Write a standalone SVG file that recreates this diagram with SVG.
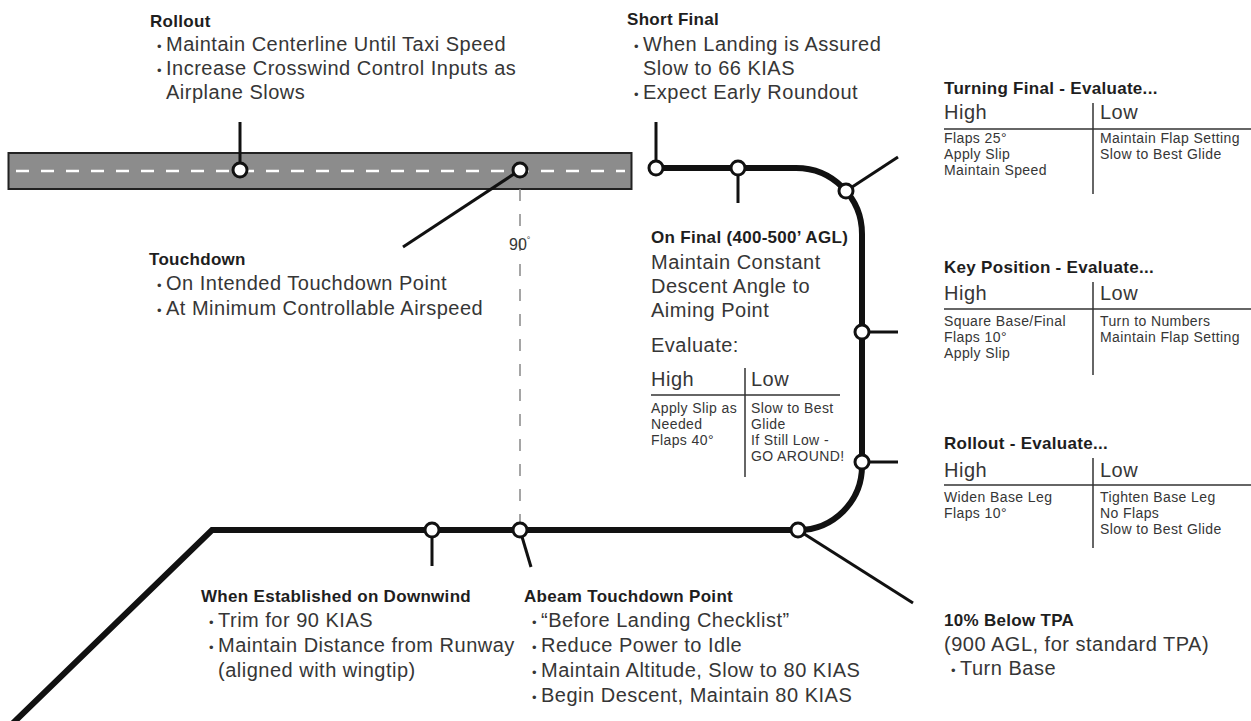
<svg xmlns="http://www.w3.org/2000/svg" width="1251" height="721" viewBox="0 0 1251 721">
<style>
text{font-family:"Liberation Sans",Arial,sans-serif}
.h{font-weight:bold;font-size:17px;letter-spacing:.3px;fill:#1e1e1e}
.b{font-size:20px;letter-spacing:.5px;fill:#363636}
.s{font-size:14px;letter-spacing:.4px;fill:#363636}
.bu{font-size:13px}
.path{fill:none;stroke:#111;stroke-width:6}
.lead{fill:none;stroke:#111;stroke-width:3}
.rule{stroke:#333;stroke-width:1.5}
.pt{fill:#fff;stroke:#111;stroke-width:3}
</style>
<rect width="1251" height="721" fill="#fff"/>
<g id="runway">
<rect x="8.5" y="153" width="623" height="36" fill="#8c8c8c" stroke="#222" stroke-width="2"/>
<line x1="16" y1="171" x2="625" y2="171" stroke="#fff" stroke-width="2.5" stroke-dasharray="13 12"/>
</g>
<g id="connectors">
<line x1="520" y1="189" x2="520" y2="530" stroke="#888" stroke-width="1.5" stroke-dasharray="12 13"/>
<path class="path" d="M10 726 L212 530 L798 530 A64 64 0 0 0 862 466 L862 234 A66 66 0 0 0 796 168 L656 168"/>
<line class="lead" x1="240" y1="170" x2="240" y2="122"/>
<line class="lead" x1="520" y1="170" x2="403" y2="247"/>
<line class="lead" x1="656" y1="168" x2="656" y2="122"/>
<line class="lead" x1="738" y1="168" x2="738" y2="203"/>
<line class="lead" x1="846" y1="191" x2="898" y2="157"/>
<line class="lead" x1="862" y1="332" x2="898" y2="332"/>
<line class="lead" x1="862" y1="462" x2="898" y2="462"/>
<line class="lead" x1="798" y1="530" x2="913" y2="603"/>
<line class="lead" x1="432" y1="530" x2="432" y2="566"/>
<line class="lead" x1="520" y1="530" x2="531" y2="567"/>
<circle class="pt" cx="240" cy="170" r="7"/>
<circle class="pt" cx="520" cy="170" r="7"/>
<circle class="pt" cx="656" cy="168" r="7"/>
<circle class="pt" cx="738" cy="168" r="7"/>
<circle class="pt" cx="846" cy="191" r="7"/>
<circle class="pt" cx="862" cy="332" r="7"/>
<circle class="pt" cx="862" cy="462" r="7"/>
<circle class="pt" cx="798" cy="530" r="7"/>
<circle class="pt" cx="520" cy="530" r="7"/>
<circle class="pt" cx="432" cy="530" r="7"/>
</g>
<g id="angle90">
<text x="509" y="250" style="font-size:16px;fill:#363636">90<tspan font-size="9" dy="-7">°</tspan></text>
</g>
<g id="rollout">
<text class="h" x="150" y="27">Rollout</text>
<text class="b" x="157" y="51"><tspan class="bu">•</tspan><tspan x="166">Maintain Centerline Until Taxi Speed</tspan></text>
<text class="b" x="157" y="75"><tspan class="bu">•</tspan><tspan x="166">Increase Crosswind Control Inputs as</tspan></text>
<text class="b" x="166" y="99">Airplane Slows</text>
</g>
<g id="short-final">
<text class="h" x="627" y="25">Short Final</text>
<text class="b" x="634" y="51"><tspan class="bu">•</tspan><tspan x="643">When Landing is Assured</tspan></text>
<text class="b" x="643" y="75">Slow to 66 KIAS</text>
<text class="b" x="634" y="99"><tspan class="bu">•</tspan><tspan x="643">Expect Early Roundout</tspan></text>
</g>
<g id="turning-final">
<text class="h" x="944" y="94">Turning Final - Evaluate...</text>
<text class="b" x="944" y="119">High</text>
<text class="b" x="1100" y="119">Low</text>
<line class="rule" x1="944" y1="129" x2="1251" y2="129"/>
<line class="rule" x1="1093" y1="103" x2="1093" y2="194"/>
<text class="s" x="944" y="143">Flaps 25°</text>
<text class="s" x="944" y="159">Apply Slip</text>
<text class="s" x="944" y="175">Maintain Speed</text>
<text class="s" x="1100" y="143">Maintain Flap Setting</text>
<text class="s" x="1100" y="159">Slow to Best Glide</text>
</g>
<g id="key-position">
<text class="h" x="944" y="273">Key Position - Evaluate...</text>
<text class="b" x="944" y="300">High</text>
<text class="b" x="1100" y="300">Low</text>
<line class="rule" x1="944" y1="309" x2="1251" y2="309"/>
<line class="rule" x1="1093" y1="282" x2="1093" y2="375"/>
<text class="s" x="944" y="326">Square Base/Final</text>
<text class="s" x="944" y="342">Flaps 10°</text>
<text class="s" x="944" y="358">Apply Slip</text>
<text class="s" x="1100" y="326">Turn to Numbers</text>
<text class="s" x="1100" y="342">Maintain Flap Setting</text>
</g>
<g id="rollout-evaluate">
<text class="h" x="944" y="449">Rollout - Evaluate...</text>
<text class="b" x="944" y="477">High</text>
<text class="b" x="1100" y="477">Low</text>
<line class="rule" x1="944" y1="485" x2="1251" y2="485"/>
<line class="rule" x1="1093" y1="458" x2="1093" y2="548"/>
<text class="s" x="944" y="502">Widen Base Leg</text>
<text class="s" x="944" y="518">Flaps 10°</text>
<text class="s" x="1100" y="502">Tighten Base Leg</text>
<text class="s" x="1100" y="518">No Flaps</text>
<text class="s" x="1100" y="534">Slow to Best Glide</text>
</g>
<g id="below-tpa">
<text class="h" x="944" y="626">10% Below TPA</text>
<text class="b" x="944" y="651">(900 AGL, for standard TPA)</text>
<text class="b" x="951" y="675"><tspan class="bu">•</tspan><tspan x="960">Turn Base</tspan></text>
</g>
<g id="on-final">
<text class="h" x="651" y="243">On Final (400-500’ AGL)</text>
<text class="b" x="651" y="269">Maintain Constant</text>
<text class="b" x="651" y="293">Descent Angle to</text>
<text class="b" x="651" y="317">Aiming Point</text>
<text class="b" x="651" y="352">Evaluate:</text>
<text class="b" x="651" y="386">High</text>
<text class="b" x="751" y="386">Low</text>
<line class="rule" x1="651" y1="395" x2="840" y2="395"/>
<line class="rule" x1="745" y1="368" x2="745" y2="477"/>
<text class="s" x="651" y="413">Apply Slip as</text>
<text class="s" x="651" y="429">Needed</text>
<text class="s" x="651" y="445">Flaps 40°</text>
<text class="s" x="751" y="413">Slow to Best</text>
<text class="s" x="751" y="429">Glide</text>
<text class="s" x="751" y="445">If Still Low -</text>
<text class="s" x="751" y="461">GO AROUND!</text>
</g>
<g id="touchdown">
<text class="h" x="149" y="265">Touchdown</text>
<text class="b" x="157" y="290"><tspan class="bu">•</tspan><tspan x="166">On Intended Touchdown Point</tspan></text>
<text class="b" x="157" y="315"><tspan class="bu">•</tspan><tspan x="166">At Minimum Controllable Airspeed</tspan></text>
</g>
<g id="downwind">
<text class="h" x="201" y="602">When Established on Downwind</text>
<text class="b" x="209" y="627"><tspan class="bu">•</tspan><tspan x="218">Trim for 90 KIAS</tspan></text>
<text class="b" x="209" y="652"><tspan class="bu">•</tspan><tspan x="218">Maintain Distance from Runway</tspan></text>
<text class="b" x="218" y="677">(aligned with wingtip)</text>
</g>
<g id="abeam">
<text class="h" x="524" y="602">Abeam Touchdown Point</text>
<text class="b" x="532" y="627"><tspan class="bu">•</tspan><tspan x="541">“Before Landing Checklist”</tspan></text>
<text class="b" x="532" y="652"><tspan class="bu">•</tspan><tspan x="541">Reduce Power to Idle</tspan></text>
<text class="b" x="532" y="677"><tspan class="bu">•</tspan><tspan x="541">Maintain Altitude, Slow to 80 KIAS</tspan></text>
<text class="b" x="532" y="702"><tspan class="bu">•</tspan><tspan x="541">Begin Descent, Maintain 80 KIAS</tspan></text>
</g>
</svg>
